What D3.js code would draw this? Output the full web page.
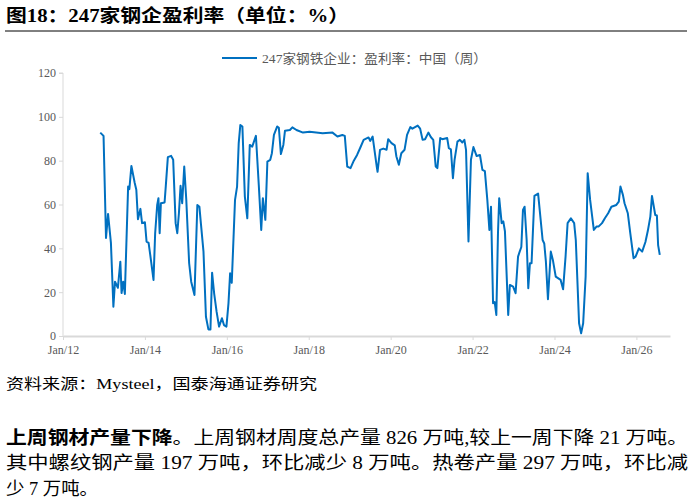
<!DOCTYPE html>
<html><head><meta charset="utf-8">
<script src="https://cdn.jsdelivr.net/npm/d3@7"></script>
<style>
body{margin:0;background:#fff;font-family:"Liberation Serif","Noto Sans CJK SC",serif;}
svg text{font-family:"Liberation Serif","Noto Sans CJK SC",serif;}
</style></head><body>
<svg id="c" width="692" height="504"></svg>
<script>
// decimal year of each sample
const yearPts = [2012.91,2012.99,2013.05,2013.10,2013.17,2013.23,2013.27,2013.34,2013.40,2013.43,2013.47,2013.51,2013.59,2013.62,2013.67,2013.75,2013.79,2013.83,2013.89,2013.93,2014.00,2014.04,2014.09,2014.13,2014.21,2014.25,2014.30,2014.33,2014.36,2014.39,2014.48,2014.51,2014.56,2014.64,2014.69,2014.75,2014.79,2014.83,2014.87,2014.91,2014.96,2015.01,2015.08,2015.13,2015.21,2015.28,2015.33,2015.37,2015.43,2015.49,2015.55,2015.60,2015.64,2015.69,2015.75,2015.81,2015.88,2015.93,2015.99,2016.04,2016.08,2016.12,2016.20,2016.25,2016.29,2016.33,2016.38,2016.44,2016.50,2016.56,2016.62,2016.71,2016.78,2016.84,2016.88,2016.94,2016.99,2017.06,2017.10,2017.15,2017.23,2017.27,2017.32,2017.38,2017.42,2017.54,2017.60,2017.70,2017.86,2018.02,2018.34,2018.58,2018.70,2018.82,2018.88,2018.94,2019.02,2019.10,2019.18,2019.26,2019.34,2019.46,2019.50,2019.56,2019.66,2019.68,2019.74,2019.82,2019.90,2019.94,2020.02,2020.10,2020.14,2020.20,2020.26,2020.34,2020.40,2020.48,2020.53,2020.66,2020.72,2020.78,2020.84,2020.92,2020.98,2021.04,2021.10,2021.14,2021.21,2021.26,2021.38,2021.42,2021.47,2021.52,2021.56,2021.63,2021.69,2021.75,2021.80,2021.84,2021.90,2021.96,2022.02,2022.10,2022.18,2022.24,2022.30,2022.36,2022.41,2022.45,2022.50,2022.54,2022.58,2022.62,2022.65,2022.71,2022.75,2022.79,2022.87,2022.91,2022.99,2023.05,2023.11,2023.15,2023.19,2023.23,2023.27,2023.32,2023.36,2023.40,2023.44,2023.51,2023.60,2023.71,2023.75,2023.79,2023.84,2023.91,2023.96,2024.03,2024.15,2024.21,2024.27,2024.32,2024.40,2024.48,2024.52,2024.60,2024.65,2024.70,2024.76,2024.81,2024.87,2024.96,2025.03,2025.08,2025.16,2025.23,2025.31,2025.39,2025.51,2025.57,2025.61,2025.67,2025.71,2025.79,2025.85,2025.93,2025.98,2026.06,2026.14,2026.22,2026.28,2026.34,2026.38,2026.46,2026.50,2026.53,2026.57];
const profitRate = [92.8,91.3,44.7,55.7,42.5,13.4,24.8,22,33.9,19.6,24.8,19.2,68.2,67,77.6,69.9,66.7,53.3,58,51.5,51.9,43.1,42.5,37,25.6,46.9,59.8,62.9,46.9,60.6,60.9,68.5,81.6,82.2,80.4,51.5,46.9,56,68.5,60.6,77.3,62.1,33.2,24.8,18.7,59.8,59,50.7,38.5,8.8,3,3,28.9,19.5,11.1,4.3,8.1,5,4.3,14.9,28.6,24.3,62.1,68.2,88,96.3,95.6,63.6,53.7,87.2,86.4,91.3,68.9,48.4,62.9,53,79.6,80.4,83.4,91.8,95.6,95,83,87.2,93.7,94,95.2,94,92.8,93.2,92.5,92.8,91,91.7,91.3,77.3,76.6,80,82.6,86,89.5,90.6,89,91,77.3,74.9,84.9,85.5,85,89.8,88,87,81.9,78.1,83.4,85,91.8,95.3,94.6,96,94.6,89.5,89.8,92.8,90.8,89.5,77.3,76.6,90.3,89.8,90.3,85.7,85.2,72,80.4,88.7,89.5,88.3,89.5,84.9,43.1,80.4,86.2,82.1,82.6,75.8,75.2,62.1,48.4,59,14.9,15.5,9.6,46.9,62.9,51.5,52.3,47.8,9.6,23.3,22.5,19.5,36.2,38.5,40.6,57.5,59,43.8,21.8,33.2,33.2,63.9,65,43.8,42.2,33.9,16.8,38.5,34.7,27.1,25.6,21.3,36.2,51.5,53.7,51.5,43.8,5.8,1.2,5.8,27.1,74.3,62.1,48.4,50,50,51.5,53.7,56,59,59.8,61.3,68.2,64.4,60.6,56,46.9,35.5,36.2,40,38.5,42.9,48.1,54.5,63.9,55.2,55,41.5,37];
const yTicks = [0,20,40,60,80,100,120];
const xTickYears = [2012,2014,2016,2018,2020,2022,2024,2026];
const xTickLabels = ["Jan/12","Jan/14","Jan/16","Jan/18","Jan/20","Jan/22","Jan/24","Jan/26"];

const svg = d3.select("#c");
const m = {l:63, r:670, t:73, b:336};
const x = d3.scaleLinear().domain([2012, 2026.82]).range([m.l, m.r]);
const y = d3.scaleLinear().domain([0,120]).range([m.b, m.t]);

// title
svg.append("text").attr("x",6).attr("y",22).attr("font-size",18).attr("font-weight","bold")
  .attr("textLength",343).attr("lengthAdjust","spacingAndGlyphs")
  .text("图18：247家钢企盈利率（单位：%）");
svg.append("line").attr("x1",5).attr("x2",687).attr("y1",31).attr("y2",31).attr("stroke","#000").attr("stroke-width",1);

// y axis
const gy = svg.append("g").attr("transform",`translate(${m.l},0)`)
  .call(d3.axisLeft(y).tickValues(yTicks).tickSize(4).tickSizeOuter(0));
gy.selectAll("text").attr("font-size",12).attr("fill","#595959");
gy.selectAll("line,path").attr("stroke","#d9d9d9");
gy.select("path").attr("d",`M-4,${m.t}H0V${m.b}`);

// x axis
const gx = svg.append("g").attr("transform",`translate(0,${m.b})`)
  .call(d3.axisBottom(x).tickValues(xTickYears).tickFormat((d,i)=>xTickLabels[i]).tickSize(4).tickSizeOuter(0));
gx.selectAll("text").attr("font-size",12).attr("fill","#595959").attr("dy","0.9em");
gx.selectAll("line").attr("stroke","#d9d9d9");
gx.select("path").attr("stroke","#d9d9d9").attr("stroke-width",2);

// line
const pts = yearPts.map((d,i)=>[d, profitRate[i]]);
svg.append("path").datum(pts)
  .attr("d", d3.line().x(d=>x(d[0])).y(d=>y(d[1])))
  .attr("fill","none").attr("stroke","#0070c0").attr("stroke-width",2).attr("stroke-linejoin","round");

// legend
svg.append("line").attr("x1",222).attr("x2",257).attr("y1",58).attr("y2",58).attr("stroke","#0070c0").attr("stroke-width",2);
svg.append("text").attr("x",262).attr("y",63).attr("font-size",13).attr("fill","#595959")
  .attr("textLength",225).attr("lengthAdjust","spacingAndGlyphs")
  .text("247家钢铁企业：盈利率：中国（周）");

// source
svg.append("text").attr("x",6).attr("y",389).attr("font-size",15)
  .attr("textLength",311).attr("lengthAdjust","spacingAndGlyphs")
  .text("资料来源：Mysteel，国泰海通证券研究");

// paragraph
const para = svg.append("g").attr("font-size",18);
const t1 = para.append("text").attr("x",6).attr("y",444).attr("textLength",682).attr("lengthAdjust","spacingAndGlyphs");
t1.append("tspan").attr("font-weight","bold").text("上周钢材产量下降");
t1.append("tspan").text("。上周钢材周度总产量 826 万吨,较上一周下降 21 万吨。");
para.append("text").attr("x",6).attr("y",469).attr("textLength",682).attr("lengthAdjust","spacingAndGlyphs")
  .text("其中螺纹钢产量 197 万吨，环比减少 8 万吨。热卷产量 297 万吨，环比减");
para.append("text").attr("x",6).attr("y",495).attr("textLength",92).attr("lengthAdjust","spacingAndGlyphs").text("少 7 万吨。");
</script></body></html>
